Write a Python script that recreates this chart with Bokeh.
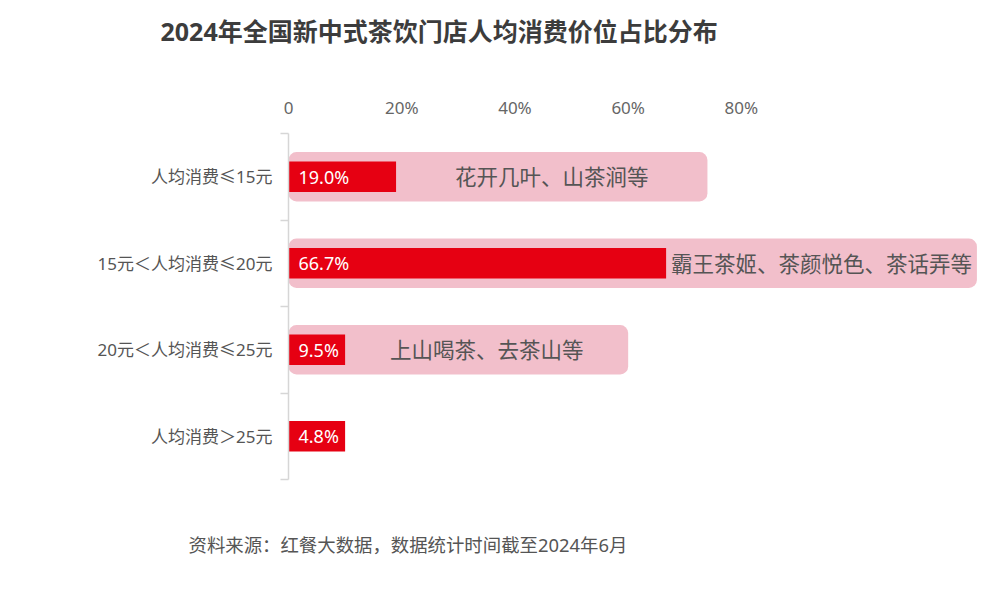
from bokeh.plotting import figure
from bokeh.models import Range1d, FixedTicker, ColumnDataSource, Title
from bokeh.embed import file_html
from bokeh.resources import INLINE
from bokeh.core.properties import value
import math

# ---- data ----
categories = ["人均消费≤15元", "15元＜人均消费≤20元", "20元＜人均消费≤25元", "人均消费＞25元"]
shares = [19.0, 66.7, 9.5, 4.8]
share_labels = ["19.0%", "66.7%", "9.5%", "4.8%"]
bar_lengths = [19.0, 66.7, 10.0, 10.0]       # drawn lengths
bg_lengths = [74.0, 121.6, 60.0, float("nan")]
brands = ["花开几叶、山茶涧等", "霸王茶姬、茶颜悦色、茶话弄等", "上山喝茶、去茶山等", ""]
x_ticks = [0, 20, 40, 60, 80]
x_tick_labels = ["0", "20%", "40%", "60%", "80%"]
title_text = "2024年全国新中式茶饮门店人均消费价位占比分布"
source_text = "资料来源：红餐大数据，数据统计时间截至2024年6月"

FONT = "Noto Sans, Noto Sans CJK SC"
n = len(categories)
y_pos = [i + 0.5 for i in range(n)]
brand_x = [(b + g) / 2 if not math.isnan(g) else 0 for b, g in zip(bar_lengths, bg_lengths)]

src = ColumnDataSource(dict(y=y_pos, bar=bar_lengths, bg=bg_lengths, lab=share_labels,
                            brand=brands, bx=brand_x))

p = figure(frame_width=702, frame_height=346, min_border_left=288, min_border_top=133,
           min_border_right=2, min_border_bottom=107,
           x_range=Range1d(0, 124), y_range=Range1d(n, 0),
           x_axis_location="above", output_backend="svg", toolbar_location=None)
p.outline_line_color = None
p.xgrid.grid_line_color = None
p.ygrid.grid_line_color = None
p.background_fill_color = "white"
p.border_fill_color = "white"

# x axis (top)
xa = p.xaxis[0]
xa.ticker = FixedTicker(ticks=x_ticks)
xa.major_label_overrides = {t: l for t, l in zip(x_ticks, x_tick_labels)}
xa.axis_line_color = None
xa.major_tick_line_color = None
xa.minor_tick_line_color = None
xa.major_label_standoff = 9
xa.major_label_text_font = FONT
xa.major_label_text_font_size = "17px"
xa.major_label_text_color = "#666666"

# y axis (left)
ya = p.yaxis[0]
ya.ticker = FixedTicker(ticks=y_pos, minor_ticks=list(range(n + 1)))
ya.major_label_overrides = {y: c for y, c in zip(y_pos, categories)}
ya.axis_line_color = "#d6d6d6"
ya.axis_line_width = 1.5
ya.major_tick_line_color = None
ya.minor_tick_line_color = "#d6d6d6"
ya.minor_tick_line_width = 1.5
ya.minor_tick_out = 8
ya.minor_tick_in = 0
ya.major_label_standoff = 8
ya.major_label_text_font = FONT
ya.major_label_text_font_size = "17px"
ya.major_label_text_color = "#555555"

# background pink bars
p.hbar(y="y", left=0, right="bg", height=0.57, source=src, fill_color="#F2BFCB",
       line_color=None, border_radius=8)
# red bars
p.hbar(y="y", left=0, right="bar", height=0.35, source=src, fill_color="#E60012",
       line_color=None)

# value labels
p.text(x=0, y="y", text="lab", source=src, x_offset=10, text_align="left",
       text_baseline="middle", text_color="white", text_font=value(FONT),
       text_font_size="18px")
# brand labels
p.text(x="bx", y="y", text="brand", source=src, text_align="center",
       text_baseline="middle", text_color="#555555", text_font=value(FONT),
       text_font_size="21.5px")

# title (outermost above) with spacer between axis and title
p.add_layout(Title(text=" ", text_font_size="25px"), "above")
p.title.text = title_text
p.title.align = "left"
p.title.offset = -128
p.title.text_font = FONT
p.title.text_font_size = "25px"
p.title.text_font_style = "bold"
p.title.text_color = "#3c3c3c"

# source note below
p.add_layout(Title(text=" ", text_font_size="30px"), "below")
p.add_layout(Title(text=source_text, align="left", offset=-100, text_font=FONT,
                   text_font_size="18.4px", text_font_style="normal",
                   text_color="#555555"), "below")

open("out.html", "w").write(file_html(p, INLINE))
